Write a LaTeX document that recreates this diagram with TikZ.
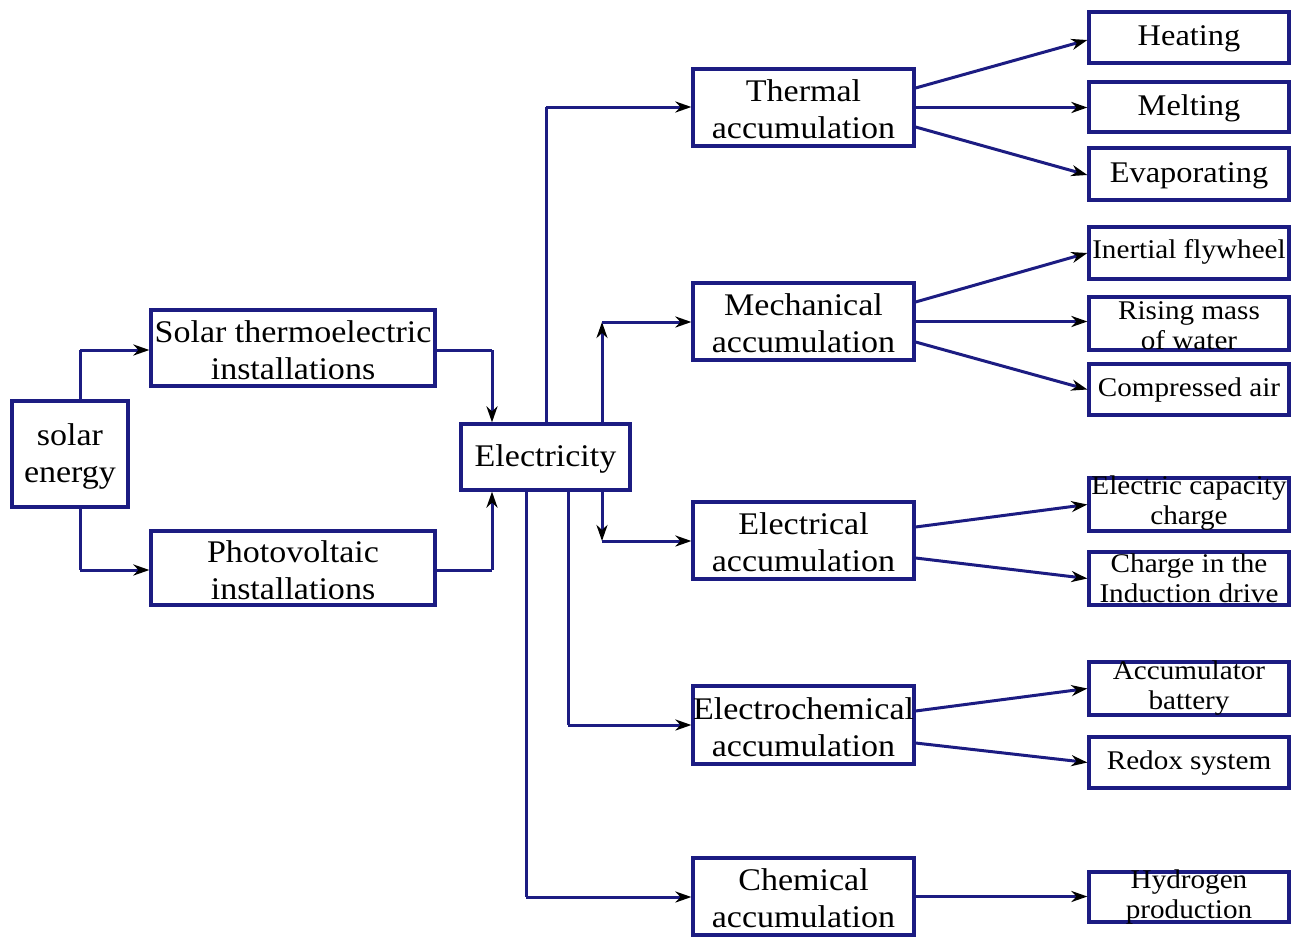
\documentclass[tikz,border=0pt]{standalone}
\usepackage{fontspec}
\setmainfont{Liberation Serif}[FakeStretch=1.08]
\usetikzlibrary{arrows.meta}
\definecolor{ln}{RGB}{28,28,130}
\begin{document}
\begin{tikzpicture}[x=1pt,y=-1pt,
  box/.style={draw=ln,line width=3.2pt,inner sep=0pt,rectangle},
  big/.style={font=\fontsize{31.5}{37}\selectfont,align=center,inner sep=0pt,yshift=-2pt},
  mid/.style={font=\fontsize{30}{34}\selectfont,align=center,inner sep=0pt},
  small/.style={font=\fontsize{27}{30}\selectfont,align=center,inner sep=0pt},
  link/.style={draw=ln,line width=3pt},
  arr/.style={link,-{Stealth[length=16pt,width=11pt,inset=5pt,color=black]}},
]
\useasboundingbox (0,0) rectangle (1301,937);
\fill[white] (0,0) rectangle (1301,937);

% left boxes
\node[box,minimum width=116pt,minimum height=106pt] (solar) at (70,454) {};
\node[big] (solarT) at (solar.center) {solar\\energy};
\node[box,minimum width=284pt,minimum height=76pt] (thermo) at (293,348) {};
\node[big] (thermoT) at (thermo.center) {Solar thermoelectric\\installations};
\node[box,minimum width=284pt,minimum height=74pt] (pv) at (293,568) {};
\node[big] (pvT) at (pv.center) {Photovoltaic\\installations};
\node[box,minimum width=169pt,minimum height=66pt] (elec) at (545.5,457) {};
\node[big] (elecT) at (elec.center) {Electricity};

% middle boxes
\node[box,minimum width=221pt,minimum height=77pt] (thermal) at (803.5,107.5) {};
\node[big] (thermalT) at (thermal.center) {Thermal\\accumulation};
\node[box,minimum width=221pt,minimum height=77pt] (mech) at (803.5,321.5) {};
\node[big] (mechT) at (mech.center) {Mechanical\\accumulation};
\node[box,minimum width=221pt,minimum height=77pt] (electr) at (803.5,540.5) {};
\node[big] (electrT) at (electr.center) {Electrical\\accumulation};
\node[box,minimum width=221pt,minimum height=78pt] (echem) at (803.5,725) {};
\node[big] (echemT) at (echem.center) {Electrochemical\\accumulation};
\node[box,minimum width=221pt,minimum height=77pt] (chem) at (803.5,896.5) {};
\node[big] (chemT) at (chem.center) {Chemical\\accumulation};

% right boxes
\node[box,minimum width=200pt,minimum height=51pt] (heat) at (1189,37.5) {};
\node[mid] (heatT) at ([yshift=-1pt]heat.center) {Heating};
\node[box,minimum width=200pt,minimum height=50pt] (melt) at (1189,107) {};
\node[mid] (meltT) at ([yshift=-1pt]melt.center) {Melting};
\node[box,minimum width=200pt,minimum height=52pt] (evap) at (1189,174) {};
\node[mid] (evapT) at ([yshift=-2pt]evap.center) {Evaporating};
\node[box,minimum width=200pt,minimum height=52pt] (inert) at (1189,253) {};
\node[small] (inertT) at ([yshift=1pt]inert.center) {Inertial flywheel};
\node[box,minimum width=200pt,minimum height=53pt] (rise) at (1189,323.5) {};
\node[small] (riseT) at ([yshift=-2pt]rise.center) {Rising mass\\of water};
\node[box,minimum width=200pt,minimum height=51pt] (comp) at (1189,389.5) {};
\node[small] (compT) at ([yshift=-1pt]comp.center) {Compressed air};
\node[box,minimum width=200pt,minimum height=53pt] (ecap) at (1189,504.5) {};
\node[small] (ecapT) at ([yshift=1pt]ecap.center) {Electric capacity\\charge};
\node[box,minimum width=200pt,minimum height=53pt] (charge) at (1189,578.5) {};
\node[small] (chargeT) at (charge.center) {Charge in the\\Induction drive};
\node[box,minimum width=200pt,minimum height=53pt] (accu) at (1189,688.5) {};
\node[small] (accuT) at (accu.center) {Accumulator\\battery};
\node[box,minimum width=200pt,minimum height=51pt] (redox) at (1189,762.5) {};
\node[small] (redoxT) at ([yshift=-1pt]redox.center) {Redox system};
\node[box,minimum width=200pt,minimum height=50pt] (hydro) at (1189,897) {};
\node[small] (hydroT) at (hydro.center) {Hydrogen\\production};

% corner coordinates
\coordinate (c1) at (80,350);
\coordinate (c2) at (80,570);
\coordinate (c3) at (492,350);
\coordinate (c4) at (492,570);
\coordinate (c5) at (546,107);
\coordinate (c6) at (602,322);
\coordinate (c7) at (602,541);
\coordinate (c8) at (568,725);
\coordinate (c9) at (526,897);

% left connectors
\draw[link] (c1 |- solar.north) -- (c1);
\draw[arr] (c1) -- (c1 -| thermo.west);
\draw[link] (c2 |- solar.south) -- (c2);
\draw[arr] (c2) -- (c2 -| pv.west);
\draw[link] (c3 -| thermo.east) -- (c3);
\draw[arr] (c3) -- (c3 |- elec.north);
\draw[link] (c4 -| pv.east) -- (c4);
\draw[arr] (c4) -- (c4 |- elec.south);

% electricity connectors
\draw[link] (c5 |- elec.north) -- (c5);
\draw[arr] (c5) -- (c5 -| thermal.west);
\draw[arr] (c6 |- elec.north) -- (c6);
\draw[arr] (c6) -- (c6 -| mech.west);
\draw[arr] (c7 |- elec.south) -- (c7);
\draw[arr] (c7) -- (c7 -| electr.west);
\draw[link] (c8 |- elec.south) -- (c8);
\draw[arr] (c8) -- (c8 -| echem.west);
\draw[link] (c9 |- elec.south) -- (c9);
\draw[arr] (c9) -- (c9 -| chem.west);

% right connectors
\draw[arr] ([yshift=19.5pt]thermal.east) -- ([yshift=-2.5pt]heat.west);
\draw[arr] (thermal.east) -- (thermal.east -| melt.west);
\draw[arr] ([yshift=-19.5pt]thermal.east) -- ([yshift=-1pt]evap.west);
\draw[arr] ([yshift=19.5pt]mech.east) -- (inert.west);
\draw[arr] (mech.east) -- (mech.east -| rise.west);
\draw[arr] ([yshift=-20.5pt]mech.east) -- (comp.west);
\draw[arr] ([yshift=13.5pt]electr.east) -- (ecap.west);
\draw[arr] ([yshift=-17.5pt]electr.east) -- (charge.west);
\draw[arr] ([yshift=14pt]echem.east) -- (accu.west);
\draw[arr] ([yshift=-18pt]echem.east) -- (redox.west);
\draw[arr] (chem.east) -- (chem.east -| hydro.west);
\end{tikzpicture}
\end{document}
